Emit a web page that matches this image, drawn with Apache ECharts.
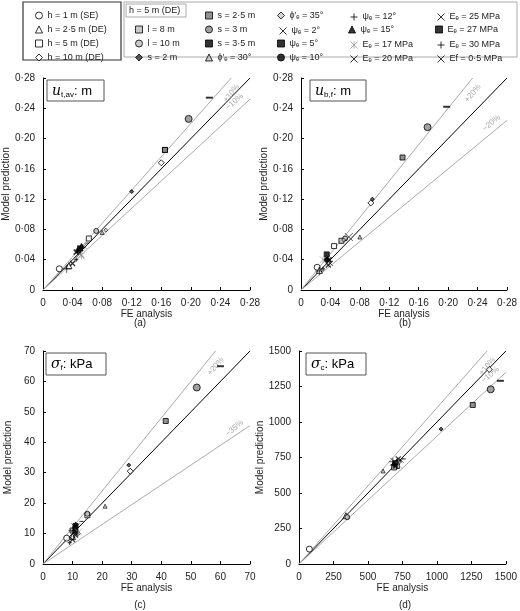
<!DOCTYPE html>
<html lang="en">
<head>
<meta charset="UTF-8" />
<title>Model vs FE</title>
<style>
  * { margin: 0; padding: 0; }
  #main { width: 520px; height: 611px; }
</style>
</head>
<body>
<div id="main"></div>
<script src="https://cdn.jsdelivr.net/npm/echarts@6/dist/echarts.min.js"></script>
<script>
// 各参数组名称
const names = [
  "h = 1 m (SE)", "h = 2·5 m (DE)", "h = 5 m (DE)", "h = 10 m (DE)",
  "l = 8 m", "l = 10 m", "s = 2 m", "s = 2·5 m", "s = 3 m", "s = 3·5 m",
  "ϕ′ₑ = 30°", "ϕ′ₑ = 35°", "ψₑ = 2°", "ψₑ = 5°", "ψₑ = 10°", "ψₑ = 12°", "ψₑ = 15°",
  "Eₑ = 17 MPa", "Eₑ = 20 MPa", "Eₑ = 25 MPa", "Eₑ = 27 MPa", "Eₑ = 30 MPa", "Ef = 0·5 MPa"
];

// 每组 [FE, 模型] — 面板 (a)(b)(c)(d)
const dataA = [[0.022,0.028],[0.035,0.032],[0.062,0.068],[0.16,0.168],[0.165,0.185],[0.072,0.078],[0.12,0.13],[0.165,0.185],[0.197,0.226],[0.225,0.254],[0.08,0.076],[0.085,0.079],[0.05,0.048],[0.05,0.055],[0.048,0.052],[0.032,0.028],[0.052,0.058],[0.052,0.045],[0.04,0.035],[0.055,0.058],[0.06,0.062],[0.045,0.04],[0.045,0.05]];
const dataB = [[0.022,0.03],[0.025,0.026],[0.045,0.058],[0.095,0.115],[0.055,0.065],[0.06,0.068],[0.097,0.12],[0.138,0.175],[0.172,0.215],[0.198,0.242],[0.08,0.07],[0.058,0.066],[0.065,0.07],[0.035,0.047],[0.035,0.04],[0.025,0.025],[0.035,0.042],[0.03,0.04],[0.037,0.033],[0.04,0.035],[0.04,0.038],[0.03,0.028],[0.038,0.04]];
const dataC = [[8,8.5],[10,9],[15,16],[29.5,30.5],[10,11],[15,16.5],[29,32.5],[41.5,47],[52,58],[60,65],[21,19],[12,10],[11,12],[11,12.5],[11,11],[10,11],[11,13],[12,10.5],[10,8],[11,10],[13,14],[9,7],[11,9.5]];
const dataD = [[75,105],[340,340],[710,690],[1380,1370],[690,680],[350,330],[1030,950],[1260,1120],[1390,1230],[1460,1290],[610,655],[730,720],[690,720],[700,710],[700,700],[680,720],[710,720],[720,700],[720,740],[740,730],[760,740],[680,700],[700,690]];

// 误差带 [上, 下]
const bandA = [0.10, 0.10], bandB = [0.20, 0.20], bandC = [0.20, 0.35], bandD = [0.10, 0.10];
const maxA = 0.28, maxB = 0.28, maxC = 70, maxD = 1500;

const X = "path://M0,0L10,10M10,0L0,10";
const PLUS = "path://M5,0L5,10M0,5L10,5";
const STAR = "path://M0,0L10,10M10,0L0,10M5,0L5,10";
// 每组的符号样式 [symbol, size, fill, border]
const styles = [
  ["circle",6,"#fff",1],["triangle",6,"#fff",1],["rect",5,"#fff",1],["diamond",6,"#fff",1],
  ["rect",5,"#bbb",1],["circle",5,"#bbb",1],["diamond",4,"#333",1],["rect",5,"#777",1],["circle",7,"#888",1],["rect",[7,2],"#000",0],
  ["triangle",4,"#bbb",0.8],["diamond",4,"#ccc",0.8],[X,8,"none",0.8],["rect",5,"#000",1],["circle",5,"#000",1],[PLUS,8,"none",0.8],["triangle",5,"#000",1],
  [STAR,7,"none",0.8],[X,5,"none",1.2],[X,5,"none",0.8],["rect",[4,1],"#000",0],[PLUS,4,"none",1.2],[X,5,"none",1.5]
];
const lineCol = { 17: "#999" };

const grids = [
  { left: 43, top: 78, width: 207, height: 212 },
  { left: 301, top: 78, width: 211, height: 212 },
  { left: 43, top: 351, width: 207, height: 213 },
  { left: 299, top: 351, width: 208, height: 213 }
];
const panels = [[dataA, bandA, maxA, 0.04], [dataB, bandB, maxB, 0.04], [dataC, bandC, maxC, 10], [dataD, bandD, maxD, 250]];

function fmt(v) {
  if (v === 0) return "0";
  return (Math.abs(v) < 1 ? v.toFixed(2) : String(v)).replace(".", "·");
}

const xAxis = [], yAxis = [], series = [];
panels.forEach(([data, band, max, step], i) => {
  const ax = {
    gridIndex: i, min: 0, max: max, interval: step,
    axisLine: { lineStyle: { color: "#000" } },
    axisTick: { inside: true, length: 3, lineStyle: { color: "#000" } },
    splitLine: { show: false },
    axisLabel: { color: "#222", fontSize: 10, formatter: fmt }
  };
  xAxis.push(Object.assign({}, ax, { name: "FE analysis", nameLocation: "middle", nameGap: 13, nameTextStyle: { fontSize: 10, color: "#222" } }));
  yAxis.push(Object.assign({}, ax, { name: "Model prediction", nameLocation: "middle", nameGap: 30, nameTextStyle: { fontSize: 10, color: "#222" } }));

  // 1:1 线和误差带
  const up = band[0], lo = band[1];
  series.push({ type: "line", xAxisIndex: i, yAxisIndex: i, symbol: "none", silent: true, lineStyle: { color: "#000", width: 1 }, data: [[0, 0], [max, max]] });
  series.push({ type: "line", xAxisIndex: i, yAxisIndex: i, symbol: "none", silent: true, lineStyle: { color: "#aaa", width: 1 },
    endLabel: { show: true, formatter: "+" + Math.round(up * 100) + "%", color: "#aaa", fontSize: 8, rotate: 50, distance: 0, offset: [-22, 10] },
    data: [[0, 0], [max / (1 + up), max]] });
  series.push({ type: "line", xAxisIndex: i, yAxisIndex: i, symbol: "none", silent: true, lineStyle: { color: "#aaa", width: 1 },
    endLabel: { show: true, formatter: "−" + Math.round(lo * 100) + "%", color: "#aaa", fontSize: 8, rotate: 40, distance: 0, offset: [-24, -8] },
    data: [[0, 0], [max, max * (1 - lo)]] });

  data.forEach((pt, k) => {
    const [sym, size, fill, bw] = styles[k];
    series.push({
      type: "scatter", name: names[k], xAxisIndex: i, yAxisIndex: i,
      symbol: sym, symbolSize: size, z: 3,
      itemStyle: { color: fill, borderColor: lineCol[k] || "#000", borderWidth: bw },
      data: [pt]
    });
  });
});

// 图例：每项单独定位
const legendPos = [
  [30, 6], [30, 20], [30, 34], [30, 48],
  [130, 20], [130, 34], [130, 48],
  [200, 6], [200, 20], [200, 34], [200, 48],
  [272, 6], [272, 20], [272, 34], [272, 48],
  [343, 6], [343, 20], [343, 34], [343, 48],
  [430, 6], [430, 20], [430, 34], [430, 48]
];
const legend = names.map((n, k) => ({
  left: legendPos[k][0], top: legendPos[k][1], data: [n], selectedMode: false,
  itemWidth: 7, itemHeight: 7, itemStyle: { borderWidth: 1 }, textStyle: { fontSize: 9, color: "#222" }
}));

function box(x, y, w, h, main, sub, unit) {
  return { type: "group", children: [
    { type: "rect", shape: { x: x, y: y, width: w, height: h }, style: { fill: "#fff", stroke: "#555", lineWidth: 1 } },
    { type: "text", x: x + 5, y: y + 3, style: { text: "{m|" + main + "}{s|" + sub + "}{u|: " + unit + "}", rich: {
      m: { fontSize: 14, fontStyle: "italic", fontFamily: "DejaVu Serif" }, s: { fontSize: 8, verticalAlign: "bottom", padding: [8, 0, 0, 0] }, u: { fontSize: 13 } } } }
  ] };
}

const option = {
  backgroundColor: "#fff",
  textStyle: { fontFamily: "Liberation Sans, Arial" },
  animation: false,
  grid: grids,
  xAxis: xAxis,
  yAxis: yAxis,
  legend: legend,
  series: series,
  graphic: [
    { type: "rect", shape: { x: 23, y: 2, width: 98, height: 58 }, style: { fill: "none", stroke: "#333", lineWidth: 1.2 } },
    { type: "rect", shape: { x: 124, y: 2, width: 393, height: 55 }, style: { fill: "none", stroke: "#aaa", lineWidth: 1 } },
    { type: "rect", shape: { x: 126, y: 4, width: 60, height: 13 }, style: { fill: "none", stroke: "#aaa", lineWidth: 1 } },
    { type: "text", x: 129, y: 6, style: { text: "h = 5 m (DE)", fontSize: 9, fill: "#222" } },
    box(47, 80, 57, 21, "u", "t,av", "m"),
    box(310, 80, 56, 21, "u", "b,f", "m"),
    box(46, 353, 60, 22, "σ", "f", "kPa"),
    box(306, 353, 60, 22, "σ", "c", "kPa"),
    { type: "text", x: 140, y: 318, style: { text: "(a)", fontSize: 10, fill: "#222", align: "center" } },
    { type: "text", x: 405, y: 318, style: { text: "(b)", fontSize: 10, fill: "#222", align: "center" } },
    { type: "text", x: 140, y: 600, style: { text: "(c)", fontSize: 10, fill: "#222", align: "center" } },
    { type: "text", x: 405, y: 600, style: { text: "(d)", fontSize: 10, fill: "#222", align: "center" } }
  ]
};

const myChart = echarts.init(document.getElementById("main"));
myChart.setOption(option);
</script>
</body>
</html>
